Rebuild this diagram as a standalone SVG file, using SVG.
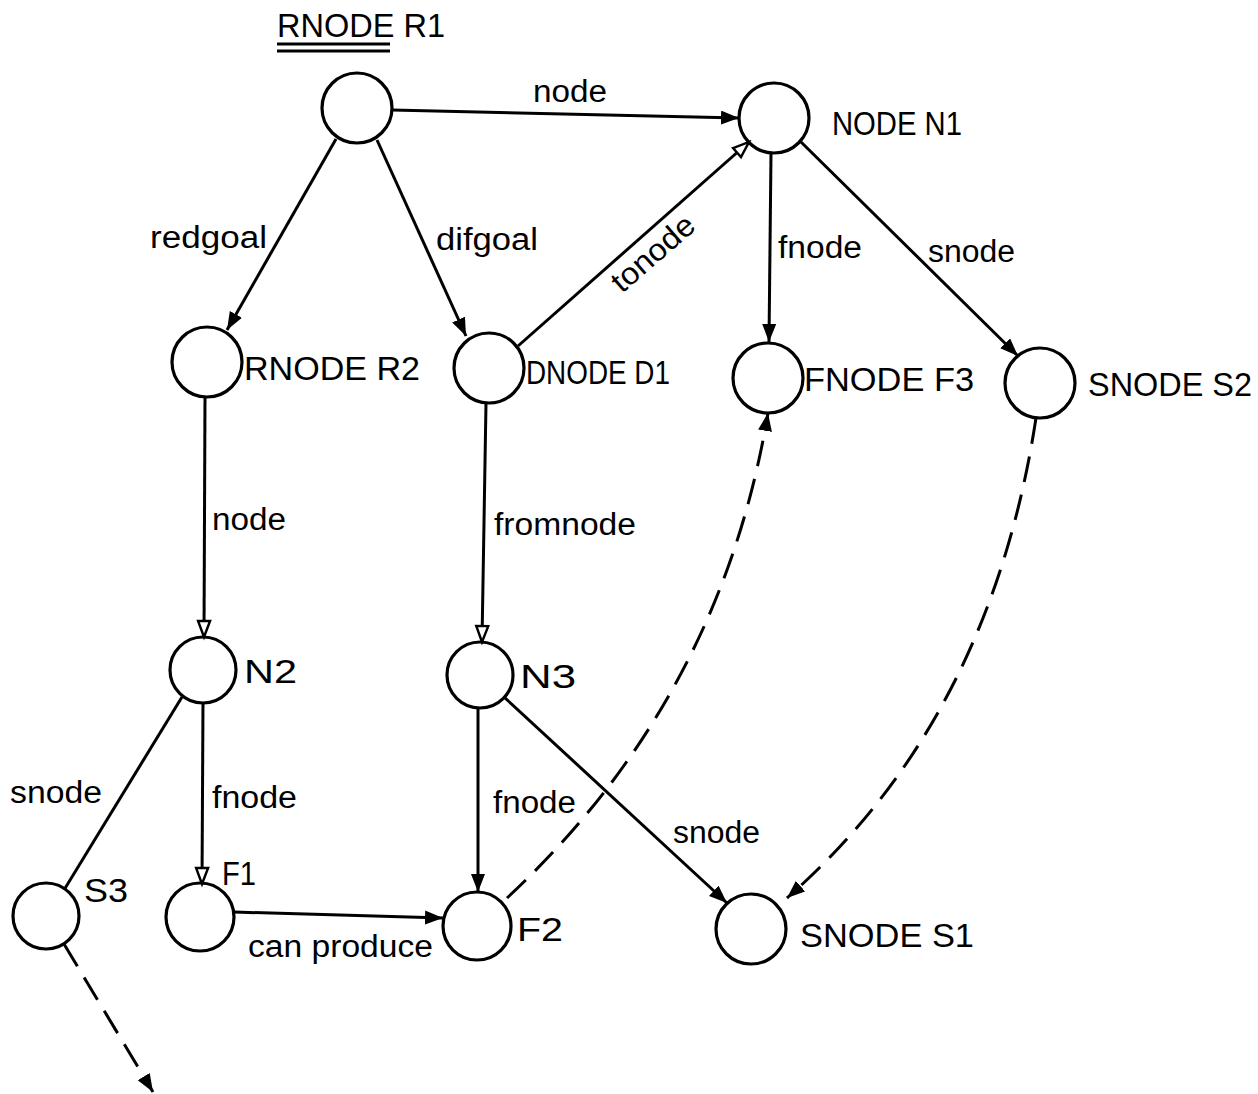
<svg xmlns="http://www.w3.org/2000/svg" width="1258" height="1094" viewBox="0 0 1258 1094">
  <style>
    .node circle { fill: none; stroke: #000; stroke-width: 3.2; }
    text { font-family: "Liberation Sans", Arial, sans-serif; fill: #000; }
    .lbl { font-size: 31px; }
    .nm { font-size: 34px; }
    .edge { fill: none; stroke: #000; stroke-width: 3; }
    .solid { marker-end: url(#arrow); }
    .open { marker-end: url(#arrowOpen); }
    .dash { stroke-dasharray: 26 13; }
  </style>
  <defs>
    <marker id="arrow" markerUnits="userSpaceOnUse" markerWidth="20" markerHeight="16" refX="18" refY="7" orient="auto">
      <path d="M0,0 L18,7 L0,14 z" fill="#000"/>
    </marker>
    <marker id="arrowOpen" markerUnits="userSpaceOnUse" markerWidth="22" markerHeight="18" refX="18" refY="8" orient="auto">
      <path d="M2,2 L18,8 L2,14 z" fill="#fff" stroke="#000" stroke-width="2.4"/>
    </marker>
  </defs>

  <rect width="1258" height="1094" fill="#fff"/>

  <!-- heading -->
  <g id="heading">
    <text class="nm" x="277" y="37" textLength="168" lengthAdjust="spacingAndGlyphs">RNODE R1</text>
    <line x1="277" y1="44" x2="390" y2="44" stroke="#000" stroke-width="3"/>
    <line x1="277" y1="51" x2="390" y2="51" stroke="#000" stroke-width="3"/>
  </g>

  <!-- connectors -->
  <g id="connectors">
    <line class="edge solid" x1="392" y1="110" x2="739" y2="118"/>
    <line class="edge solid" x1="336" y1="139" x2="227" y2="330"/>
    <line class="edge solid" x1="377" y1="140" x2="466" y2="336"/>
    <line class="edge open" x1="518" y1="346" x2="749" y2="142"/>
    <line class="edge solid" x1="771" y1="153" x2="769" y2="342"/>
    <line class="edge solid" x1="801" y1="142" x2="1018" y2="356"/>
    <line class="edge open" x1="205" y1="397" x2="204" y2="637"/>
    <line class="edge open" x1="486" y1="403" x2="482" y2="642"/>
    <line class="edge" x1="182" y1="697" x2="64" y2="890"/>
    <line class="edge open" x1="203" y1="703" x2="202" y2="884"/>
    <line class="edge solid" x1="478" y1="708" x2="478" y2="892"/>
    <line class="edge solid" x1="504" y1="697" x2="727" y2="903"/>
    <line class="edge solid" x1="234" y1="912" x2="443" y2="918"/>
    <path class="edge solid dash" d="M507,898 Q720,700 768,413"/>
    <path class="edge solid dash" d="M1036,418 Q990,720 787,898"/>
    <line class="edge solid dash" x1="64" y1="944" x2="153" y2="1092"/>
  </g>

  <!-- connector labels -->
  <g id="edge-labels" class="lbl">
    <text x="533" y="102" textLength="74" lengthAdjust="spacingAndGlyphs">node</text>
    <text x="150" y="248" textLength="117" lengthAdjust="spacingAndGlyphs">redgoal</text>
    <text x="436" y="250" textLength="102" lengthAdjust="spacingAndGlyphs">difgoal</text>
    <text x="0" y="0" textLength="100" lengthAdjust="spacingAndGlyphs" transform="translate(622,294) rotate(-41)">tonode</text>
    <text x="778" y="258" textLength="84" lengthAdjust="spacingAndGlyphs">fnode</text>
    <text x="928" y="262" textLength="87" lengthAdjust="spacingAndGlyphs">snode</text>
    <text x="212" y="530" textLength="74" lengthAdjust="spacingAndGlyphs">node</text>
    <text x="494" y="535" textLength="142" lengthAdjust="spacingAndGlyphs">fromnode</text>
    <text x="10" y="803" textLength="92" lengthAdjust="spacingAndGlyphs">snode</text>
    <text x="212" y="808" textLength="85" lengthAdjust="spacingAndGlyphs">fnode</text>
    <text x="493" y="813" textLength="83" lengthAdjust="spacingAndGlyphs">fnode</text>
    <text x="673" y="843" textLength="87" lengthAdjust="spacingAndGlyphs">snode</text>
    <text x="248" y="957" textLength="185" lengthAdjust="spacingAndGlyphs">can produce</text>
  </g>

  <!-- nodes -->
  <g id="R1" class="node"><circle cx="357" cy="108" r="35"/></g>
  <g id="N1" class="node"><circle cx="774" cy="118" r="35"/><text class="nm" x="832" y="135" textLength="130" lengthAdjust="spacingAndGlyphs">NODE N1</text></g>
  <g id="R2" class="node"><circle cx="207" cy="362" r="35"/><text class="nm" x="244" y="380" textLength="176" lengthAdjust="spacingAndGlyphs">RNODE R2</text></g>
  <g id="D1" class="node"><circle cx="489" cy="368" r="35"/><text class="nm" x="526" y="384" textLength="144" lengthAdjust="spacingAndGlyphs">DNODE D1</text></g>
  <g id="F3" class="node"><circle cx="768" cy="378" r="35"/><text class="nm" x="804" y="391" textLength="170" lengthAdjust="spacingAndGlyphs">FNODE F3</text></g>
  <g id="S2" class="node"><circle cx="1040" cy="383" r="35"/><text class="nm" x="1088" y="396" textLength="164" lengthAdjust="spacingAndGlyphs">SNODE S2</text></g>
  <g id="N2" class="node"><circle cx="203" cy="670" r="33"/><text class="nm" x="244" y="683" textLength="53" lengthAdjust="spacingAndGlyphs">N2</text></g>
  <g id="N3" class="node"><circle cx="480" cy="675" r="33"/><text class="nm" x="520" y="688" textLength="56" lengthAdjust="spacingAndGlyphs">N3</text></g>
  <g id="S3" class="node"><circle cx="46" cy="916" r="33"/><text class="nm" x="84" y="902" textLength="44" lengthAdjust="spacingAndGlyphs">S3</text></g>
  <g id="F1" class="node"><circle cx="200" cy="917" r="34"/><text class="nm" x="222" y="885" textLength="34" lengthAdjust="spacingAndGlyphs">F1</text></g>
  <g id="F2" class="node"><circle cx="477" cy="926" r="34"/><text class="nm" x="517" y="941" textLength="46" lengthAdjust="spacingAndGlyphs">F2</text></g>
  <g id="S1" class="node"><circle cx="751" cy="929" r="35"/><text class="nm" x="800" y="947" textLength="174" lengthAdjust="spacingAndGlyphs">SNODE S1</text></g>
</svg>
